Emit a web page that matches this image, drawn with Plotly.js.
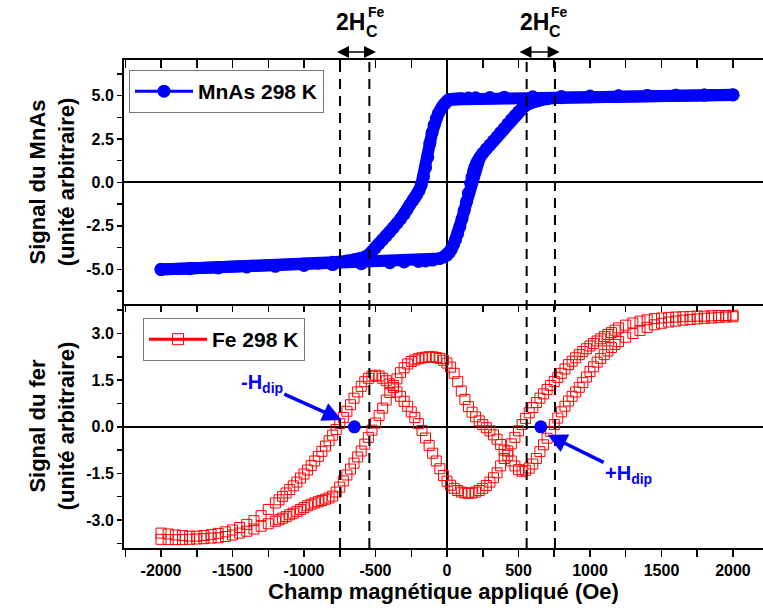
<!DOCTYPE html>
<html><head><meta charset="utf-8">
<script src="https://cdn.plot.ly/plotly-3.0.1.min.js"></script>
<style>html,body{margin:0;padding:0;background:#fff}#chart{width:763px;height:612px}</style>
</head><body><div id="chart"></div>
<script>
// ---------- MnAs 298 K (upper panel) ----------
const mnDownX = [2000,1800,1600,1400,1200,1000,800,600,400,300,200,150,100,75,50,25,10,0,-15,-30,-45,-60,-75,-90,-105,-120,-135,-150,-165,-180,-195,-210,-225,-240,-260,-280,-300,-325,-350,-375,-400,-425,-450,-475,-500,-525,-550,-575,-600,-650,-700,-800,-900,-1000,-1200,-1400,-1600,-1800,-2000];
const mnDownY = [5.04,5.03,5.02,5.00,4.99,4.97,4.95,4.93,4.91,4.89,4.87,4.86,4.84,4.82,4.80,4.78,4.74,4.68,4.55,4.40,4.20,3.98,3.68,3.30,2.85,2.25,1.45,0.85,0.30,-0.15,-0.45,-0.68,-0.88,-1.05,-1.30,-1.57,-1.83,-2.10,-2.35,-2.60,-2.85,-3.08,-3.30,-3.53,-3.75,-3.98,-4.18,-4.30,-4.38,-4.46,-4.52,-4.60,-4.65,-4.70,-4.78,-4.85,-4.90,-4.95,-5.00];
const mnUpX = [-2000,-1800,-1600,-1400,-1200,-1000,-800,-600,-400,-300,-200,-150,-100,-50,-25,0,15,30,45,60,75,90,105,120,135,150,165,175,185,195,205,215,230,250,275,300,325,350,375,400,425,450,475,500,525,550,575,600,650,700,800,1000,1200,1400,1600,1800,2000];
const mnUpY = [-5.02,-4.97,-4.92,-4.87,-4.83,-4.78,-4.73,-4.68,-4.62,-4.58,-4.55,-4.52,-4.47,-4.38,-4.30,-4.18,-4.05,-3.85,-3.60,-3.30,-2.95,-2.55,-2.10,-1.62,-1.12,-0.62,-0.05,0.30,0.62,0.88,1.08,1.24,1.45,1.68,1.93,2.16,2.40,2.63,2.88,3.12,3.37,3.62,3.85,4.07,4.27,4.43,4.55,4.64,4.76,4.82,4.88,4.93,4.97,5.00,5.02,5.04,5.05];

// ---------- Fe 298 K (lower panel) ----------
const feField = [-2000,-1950,-1900,-1850,-1800,-1750,-1700,-1650,-1600,-1550,-1500,-1450,-1400,-1350,-1300,-1250,
 -1200,-1175,-1150,-1125,-1100,-1075,-1050,-1025,-1000,-975,-950,-925,-900,-875,-850,-825,-800,-775,-750,-725,-700,-675,-650,-625,-600,-575,-550,-525,-500,-475,-450,-425,-400,-375,-350,-325,-300,-275,-250,-225,-200,-175,-150,-125,-100,-75,-50,-25,
 0,25,50,75,100,125,150,175,200,225,250,275,300,325,350,375,400,425,450,475,500,525,550,575,600,625,650,675,700,725,750,775,800,825,850,875,900,925,950,975,1000,1025,1050,1075,1100,1125,1150,1175,1200,
 1250,1300,1350,1400,1450,1500,1550,1600,1650,1700,1750,1800,1850,1900,1950,2000];
const feBranch1 = [-3.42,-3.45,-3.48,-3.50,-3.52,-3.52,-3.50,-3.47,-3.43,-3.38,-3.32,-3.24,-3.14,-3.02,-2.86,-2.66,
 -2.45,-2.35,-2.24,-2.13,-2.02,-1.90,-1.78,-1.65,-1.52,-1.39,-1.25,-1.10,-0.95,-0.79,-0.62,-0.45,-0.27,-0.09,0.10,0.30,0.50,0.71,0.92,1.12,1.30,1.45,1.56,1.63,1.66,1.63,1.56,1.48,1.38,1.26,1.12,0.98,0.82,0.66,0.48,0.30,0.10,-0.12,-0.36,-0.60,-0.85,-1.10,-1.35,-1.57,
 -1.75,-1.88,-1.98,-2.05,-2.10,-2.13,-2.14,-2.13,-2.10,-2.05,-1.98,-1.89,-1.78,-1.64,-1.48,-1.26,-1.02,-0.78,-0.55,-0.34,-0.13,0.07,0.27,0.45,0.62,0.78,0.92,1.06,1.20,1.33,1.46,1.59,1.72,1.86,2.00,2.11,2.22,2.32,2.42,2.51,2.60,2.68,2.76,2.83,2.90,2.97,3.03,3.11,3.18,
 3.27,3.34,3.40,3.44,3.48,3.50,3.52,3.53,3.54,3.55,3.56,3.56,3.57,3.58,3.58,3.59];
const feBranch2 = [-3.62,-3.63,-3.63,-3.63,-3.62,-3.61,-3.60,-3.58,-3.57,-3.53,-3.48,-3.42,-3.36,-3.29,-3.20,-3.12,
 -3.04,-2.99,-2.94,-2.89,-2.83,-2.78,-2.72,-2.66,-2.60,-2.54,-2.49,-2.45,-2.41,-2.37,-2.33,-2.29,-2.23,-2.10,-1.94,-1.74,-1.55,-1.36,-1.17,-0.97,-0.78,-0.56,-0.34,-0.11,0.12,0.36,0.60,0.86,1.10,1.33,1.54,1.74,1.90,2.02,2.10,2.15,2.19,2.22,2.24,2.25,2.25,2.23,2.20,2.14,
 2.05,1.92,1.72,1.45,1.15,0.88,0.65,0.47,0.32,0.19,0.07,-0.03,-0.13,-0.26,-0.40,-0.57,-0.75,-0.92,-1.10,-1.26,-1.38,-1.43,-1.40,-1.33,-1.20,-1.02,-0.80,-0.58,-0.37,-0.15,0.07,0.28,0.48,0.66,0.83,0.98,1.12,1.27,1.42,1.60,1.78,1.93,2.08,2.20,2.32,2.44,2.55,2.65,2.74,
 2.88,3.00,3.10,3.20,3.28,3.33,3.37,3.40,3.43,3.45,3.47,3.49,3.50,3.52,3.53,3.54];

// coercive-field markers (dashed lines) and dip fields
const coerciveLines = [-748, -543, 557, 755];
const hDipX = [-648, 656];
const hDipY = [0, 0];

// ticks
const xMajorVals = [-2000,-1500,-1000,-500,0,500,1000,1500,2000];
const xMajorText = ['-2000','-1500','-1000','-500','0','500','1000','1500','2000'];
const xMinorVals = [-2250,-1750,-1250,-750,-250,250,750,1250,1750];
const yTopMajorVals = [-5,-2.5,0,2.5,5];
const yTopMajorText = ['-5.0','-2.5','0.0','2.5','5.0'];
const yTopMinorVals = [-6.25,-3.75,-1.25,1.25,3.75,6.25];
const yBotMajorVals = [-3,-1.5,0,1.5,3];
const yBotMajorText = ['-3.0','-1.5','0.0','1.5','3.0'];
const yBotMinorVals = [-3.75,-2.25,-0.75,0.75,2.25,3.75];

const FONT = 'Liberation Sans, Arial, sans-serif';
const W = 763, H = 612, L = 124, R = 0, T = 60, B = 64;
const plotW = W - L - R, plotH = H - T - B;
function px(x){ return (x - L) / plotW; }
function py(y){ return (H - B - y) / plotH; }

const BLUE = '#0000ff', RED = '#ff0000';
const XR = [-2259, 2210];

function tv(maj, min){ return maj.concat(min); }
function tt(txt, min){ return txt.concat(min.map(() => '')); }

const tickFont = {family: FONT, size: 16, color: '#000', weight: 'bold'};
const titleFont = {family: FONT, size: 22, color: '#000', weight: 'bold'};

const traces = [
  {x: mnDownX, y: mnDownY, xaxis: 'x2', yaxis: 'y', mode: 'lines', line: {color: BLUE, width: 12}, showlegend: false, hoverinfo: 'skip'},
  {x: mnUpX, y: mnUpY, xaxis: 'x2', yaxis: 'y', mode: 'lines', line: {color: BLUE, width: 12}, showlegend: false, hoverinfo: 'skip'},
  {x: mnDownX, y: mnDownY, xaxis: 'x2', yaxis: 'y', mode: 'lines+markers', name: 'MnAs 298 K', legend: 'legend',
   line: {color: BLUE, width: 3}, marker: {symbol: 'circle', size: 13, color: BLUE}},
  {x: mnUpX, y: mnUpY, xaxis: 'x2', yaxis: 'y', mode: 'lines+markers', showlegend: false,
   line: {color: BLUE, width: 3}, marker: {symbol: 'circle', size: 13, color: BLUE}},
  {x: feField, y: feBranch1, xaxis: 'x', yaxis: 'y2', mode: 'markers', showlegend: false,
   marker: {symbol: 'square-open', size: 10, color: RED, line: {color: RED, width: 1}}},
  {x: feField, y: feBranch2, xaxis: 'x', yaxis: 'y2', mode: 'markers', showlegend: false,
   marker: {symbol: 'square-open', size: 10, color: RED, line: {color: RED, width: 1}}},
  {x: [null], y: [null], xaxis: 'x', yaxis: 'y2', mode: 'lines+markers', name: 'Fe 298 K', legend: 'legend2',
   line: {color: RED, width: 3}, marker: {symbol: 'square-open', size: 11, color: RED, line: {color: RED, width: 1}}},
  {x: hDipX, y: hDipY, xaxis: 'x', yaxis: 'y2', mode: 'markers', showlegend: false,
   marker: {symbol: 'circle', size: 13, color: BLUE}},
  {x: [], y: [], xaxis: 'x3', yaxis: 'y2', mode: 'markers', showlegend: false, hoverinfo: 'skip'}
];

const shapes = coerciveLines.map(v => ({
  type: 'line', xref: 'x', yref: 'paper', x0: v, x1: v, y0: 0, y1: 1, layer: 'above',
  line: {color: '#000', width: 2, dash: '10px,7px'}
}));

const ann = [];
function addText(text, xp, yp, size, color, xanchor){
  ann.push({xref: 'paper', yref: 'paper', x: px(xp), y: py(yp), text: text, showarrow: false,
    xanchor: xanchor || 'center', yanchor: 'middle',
    font: {family: FONT, size: size, color: color || '#000', weight: 'bold'}});
}
// 2Hc^Fe labels
addText('2H', 350, 22, 23);
addText('Fe', 376, 12, 14);
addText('C', 372, 31, 16);
addText('2H', 534, 22, 23);
addText('Fe', 559, 12, 14);
addText('C', 555, 31, 16);
// double arrows
[[376, 40.5], [559.6, 41.6]].forEach(a => ann.push({
  xref: 'paper', yref: 'paper', x: px(a[0]), y: py(52), ax: -a[1], ay: 0, axref: 'pixel', ayref: 'pixel',
  text: '', showarrow: true, arrowside: 'end+start', arrowhead: 2, startarrowhead: 2,
  arrowsize: 1.6, startarrowsize: 1.6, arrowwidth: 1.5, arrowcolor: '#000', standoff: 0, startstandoff: 0
}));
// H_dip labels with arrows
ann.push({xref: 'x', yref: 'y2', x: -736, y: 0.22, ax: -80, ay: -36, axref: 'pixel', ayref: 'pixel',
  text: '-H<sub>dip</sub>', showarrow: true, arrowhead: 2, arrowsize: 1.1, arrowwidth: 3.5, arrowcolor: BLUE, standoff: 0,
  font: {family: FONT, size: 20, color: BLUE, weight: 'bold'}});
ann.push({xref: 'x', yref: 'y2', x: 704, y: -0.256, ax: 81, ay: 40, axref: 'pixel', ayref: 'pixel',
  text: '+H<sub>dip</sub>', showarrow: true, arrowhead: 2, arrowsize: 1.1, arrowwidth: 3.5, arrowcolor: BLUE, standoff: 0,
  font: {family: FONT, size: 20, color: BLUE, weight: 'bold'}});

const axLine = {showline: true, linecolor: '#000', linewidth: 2, showgrid: false};

const layout = {
  width: W, height: H, margin: {l: L, r: R, t: T, b: B, pad: 0},
  paper_bgcolor: '#fff', plot_bgcolor: '#fff', font: {family: FONT, color: '#000'},
  xaxis: Object.assign({}, axLine, {domain: [0, 1], anchor: 'y2', range: XR, autorange: false,
    tickmode: 'array', tickvals: tv(xMajorVals, xMinorVals), ticktext: tt(xMajorText, xMinorVals),
    ticks: 'outside', ticklen: 7, tickwidth: 1.5, tickcolor: '#000', tickfont: tickFont,
    zeroline: true, zerolinecolor: '#000', zerolinewidth: 2, mirror: false,
    title: {text: 'Champ magnétique appliqué (Oe)', font: titleFont, standoff: 4}}),
  xaxis2: Object.assign({}, axLine, {domain: [0, 1], anchor: 'y', side: 'top', range: XR, autorange: false,
    tickmode: 'array', tickvals: tv(xMajorVals, xMinorVals), showticklabels: false,
    ticks: 'inside', ticklen: 8, tickwidth: 1.5, tickcolor: '#000', mirror: true,
    zeroline: true, zerolinecolor: '#000', zerolinewidth: 2}),
  xaxis3: {overlaying: 'x', anchor: 'y2', side: 'top', range: XR, autorange: false, showline: false, showgrid: false,
    tickmode: 'array', tickvals: tv(xMajorVals, xMinorVals), showticklabels: false,
    ticks: 'inside', ticklen: 8, tickwidth: 1.5, tickcolor: '#000', zeroline: false},
  yaxis: Object.assign({}, axLine, {domain: [0.5, 1], anchor: 'x2', range: [-7.0, 7.05], autorange: false,
    tickmode: 'array', tickvals: tv(yTopMajorVals, yTopMinorVals), ticktext: tt(yTopMajorText, yTopMinorVals),
    ticks: 'outside', ticklen: 5, tickwidth: 1.5, tickcolor: '#000', tickfont: tickFont,
    zeroline: true, zerolinecolor: '#000', zerolinewidth: 2,
    title: {text: 'Signal du MnAs<br>(unité arbitraire)', font: titleFont, standoff: 6}}),
  yaxis2: Object.assign({}, axLine, {domain: [0, 0.5], anchor: 'x', range: [-3.9, 3.95], autorange: false,
    tickmode: 'array', tickvals: tv(yBotMajorVals, yBotMinorVals), ticktext: tt(yBotMajorText, yBotMinorVals),
    ticks: 'outside', ticklen: 5, tickwidth: 1.5, tickcolor: '#000', tickfont: tickFont,
    zeroline: true, zerolinecolor: '#000', zerolinewidth: 2,
    title: {text: 'Signal du fer<br>(unité arbitraire)', font: titleFont, standoff: 6}}),
  legend: {x: px(129), y: py(70), xanchor: 'left', yanchor: 'top', bgcolor: '#fff', itemwidth: 58,
    bordercolor: '#777', borderwidth: 1, font: {family: FONT, size: 21, color: '#000', weight: 'bold'}},
  legend2: {x: px(143), y: py(318), xanchor: 'left', yanchor: 'top', bgcolor: '#fff', itemwidth: 58,
    bordercolor: '#777', borderwidth: 1, font: {family: FONT, size: 21, color: '#000', weight: 'bold'}},
  shapes: shapes,
  annotations: ann,
  showlegend: true
};

Plotly.newPlot('chart', traces, layout, {staticPlot: true, displayModeBar: false});
</script>
</body></html>
